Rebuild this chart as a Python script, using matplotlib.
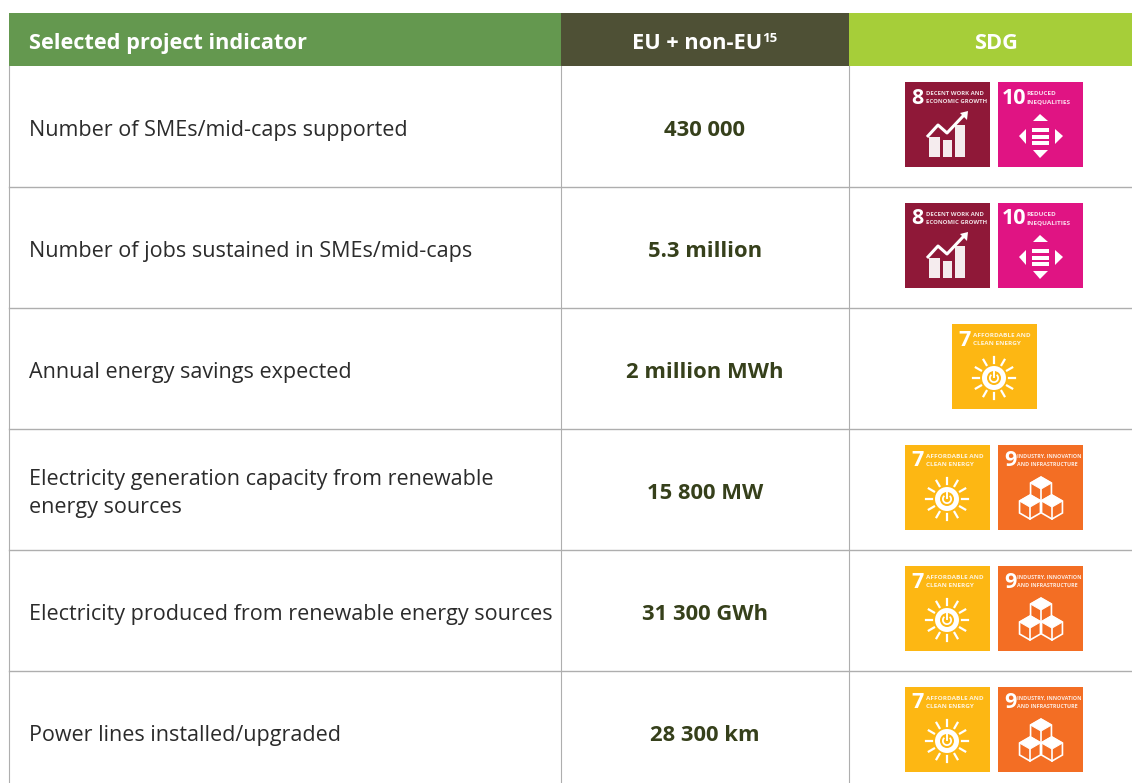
import numpy as np
import matplotlib
matplotlib.use("Agg")
import matplotlib.pyplot as plt
from matplotlib.patches import Rectangle, Circle, Polygon, Wedge

# table content
header = ["Selected project indicator", "EU + non-EU", "SDG"]
header_note = "15"
indicators = [
    "Number of SMEs/mid-caps supported",
    "Number of jobs sustained in SMEs/mid-caps",
    "Annual energy savings expected",
    "Electricity generation capacity from renewable\nenergy sources",
    "Electricity produced from renewable energy sources",
    "Power lines installed/upgraded",
]
values = ["430 000", "5.3 million", "2 million MWh", "15 800 MW", "31 300 GWh", "28 300 km"]
sdgs = [[8, 10], [8, 10], [7], [7, 9], [7, 9], [7, 9]]

sdg_colors = {7: "#fdb713", 8: "#8f1838", 9: "#f36e24", 10: "#e01483"}
sdg_labels = {
    7: "AFFORDABLE AND\nCLEAN ENERGY",
    8: "DECENT WORK AND\nECONOMIC GROWTH",
    9: "INDUSTRY, INNOVATION\nAND INFRASTRUCTURE",
    10: "REDUCED\nINEQUALITIES",
}

plt.rcParams["font.family"] = ["Open Sans", "DejaVu Sans"]

fig = plt.figure(figsize=(11.32, 7.83), dpi=100)
ax = fig.add_axes([0, 0, 1, 1])
ax.set_xlim(0, 1132)
ax.set_ylim(783, 0)
ax.axis("off")

# layout in pixels
left, col1, col2, right = 9, 561, 849, 1132
top, head_bot, row_h = 13, 66, 121
icon = 85
gap = 8
line_col = "#aeaeae"


def growth(x, y):
    for a, b, t in [(24, 35, 55), (38, 47, 58), (50, 60, 43)]:
        ax.add_patch(Rectangle((x + a, y + t), b - a, 75 - t, color="white", lw=0, alpha=0.92))
    xs = np.array([22, 33, 42, 59]) + x
    ys = np.array([55, 43, 51, 33]) + y
    ax.plot(xs, ys, color="white", lw=2.2, solid_capstyle="butt")
    ax.add_patch(Polygon([(x + 55, y + 31), (x + 63, y + 29), (x + 62, y + 38)], color="white", lw=0))


def inequal(x, y):
    w = "white"
    ax.add_patch(Polygon([(x + 42, y + 32), (x + 35, y + 39), (x + 50, y + 39)], color=w, lw=0))
    ax.add_patch(Polygon([(x + 42, y + 76), (x + 35, y + 68), (x + 50, y + 68)], color=w, lw=0))
    ax.add_patch(Polygon([(x + 21, y + 54), (x + 28, y + 47), (x + 28, y + 62)], color=w, lw=0))
    ax.add_patch(Polygon([(x + 65, y + 54), (x + 57, y + 47), (x + 57, y + 62)], color=w, lw=0))
    for t in [46, 52.5, 59]:
        ax.add_patch(Rectangle((x + 34, y + t), 17, 4, color=w, lw=0))


def sun(x, y, col):
    cx, cy = x + 42, y + 54
    ax.add_patch(Circle((cx, cy), 12, color="white", lw=0))
    ax.add_patch(Circle((cx, cy), 7, color=col, lw=0))
    ax.add_patch(Wedge((cx, cy), 5, -50, 230, width=1.8, color="white", lw=0))
    ax.plot([cx, cx], [cy - 6, cy - 1], color="white", lw=1.4)
    for ang in np.arange(0, 360, 30):
        c, s = np.cos(np.radians(ang)), np.sin(np.radians(ang))
        ax.plot([cx + 15 * c, cx + 21 * c], [cy + 15 * s, cy + 21 * s], color="white", lw=1.6)


def cube(cx, cy, r, col):
    dx, dy = r * 0.87, r * 0.5
    hexa = [(cx, cy - r), (cx + dx, cy - dy), (cx + dx, cy + dy), (cx, cy + r), (cx - dx, cy + dy), (cx - dx, cy - dy)]
    ax.add_patch(Polygon(hexa, fc=col, ec="white", lw=1.2))
    ax.add_patch(Polygon([hexa[0], hexa[1], (cx, cy), hexa[5]], fc="white", ec="white", lw=0.8))
    ax.plot([cx, cx], [cy, cy + r], color="white", lw=1.2)


def cubes(x, y, col):
    cube(x + 43, y + 44, 12, col)
    cube(x + 32, y + 62, 12, col)
    cube(x + 54, y + 62, 12, col)


def draw_icon(n, x, y):
    col = sdg_colors[n]
    ax.add_patch(Rectangle((x, y), icon, icon, color=col, lw=0))
    ax.text(x + (4 if n == 10 else 6), y + 16, str(n), color="white", fontsize=15.5, fontweight="bold",
            va="center", ha="left")
    tx = {7: 21, 8: 21, 9: 19, 10: 28}[n]
    fs = {7: 4.6, 8: 4.3, 9: 3.9, 10: 4.6}[n]
    ax.text(x + tx, y + 15.5, sdg_labels[n], color="white", fontsize=fs, fontweight="bold", va="center", ha="left",
            alpha=0.85, linespacing=1.7)
    if n == 7:
        sun(x, y, col)
    elif n == 8:
        growth(x, y)
    elif n == 9:
        cubes(x, y, col)
    else:
        inequal(x, y)


# header
ax.add_patch(Rectangle((left, top), col1 - left, head_bot - top, color="#64984f", lw=0))
ax.add_patch(Rectangle((col1, top), col2 - col1, head_bot - top, color="#4e5035", lw=0))
ax.add_patch(Rectangle((col2, top), right - col2, head_bot - top, color="#a6ce39", lw=0))
head_y = (top + head_bot) / 2 + 4
ax.text(29, head_y, header[0], color="white", fontsize=15.7, fontweight="bold", va="center", ha="left")
t = ax.text(697, head_y, header[1], color="white", fontsize=15.7, fontweight="bold", va="center", ha="center")
ax.annotate(header_note, xy=(1, 1), xycoords=t, xytext=(0, 1), textcoords="offset points",
            color="white", fontsize=9.5, fontweight="bold", va="top", ha="left")
ax.text(996, head_y, header[2], color="white", fontsize=15.7, fontweight="bold", va="center", ha="center")

# rows
for i in range(len(indicators)):
    y0 = head_bot + i * row_h
    yc = y0 + row_h / 2 + 4
    ax.text(29, yc, indicators[i], color="#2b2b2b", fontsize=15.53, va="center", ha="left", linespacing=1.43)
    ax.text((col1 + col2) / 2, yc, values[i], color="#36401b", fontsize=15.8, fontweight="bold", va="center", ha="center")
    n = len(sdgs[i])
    start = 952 if n == 1 else 905
    for j, s in enumerate(sdgs[i]):
        draw_icon(s, start + j * (icon + gap), y0 + 16)
    ax.plot([left, right], [y0 + row_h] * 2, color=line_col, lw=1)

# column rules
for x in [left, col1, col2]:
    ax.plot([x, x], [head_bot, 783], color=line_col, lw=0.8)

fig.savefig("out.png", dpi=100)
